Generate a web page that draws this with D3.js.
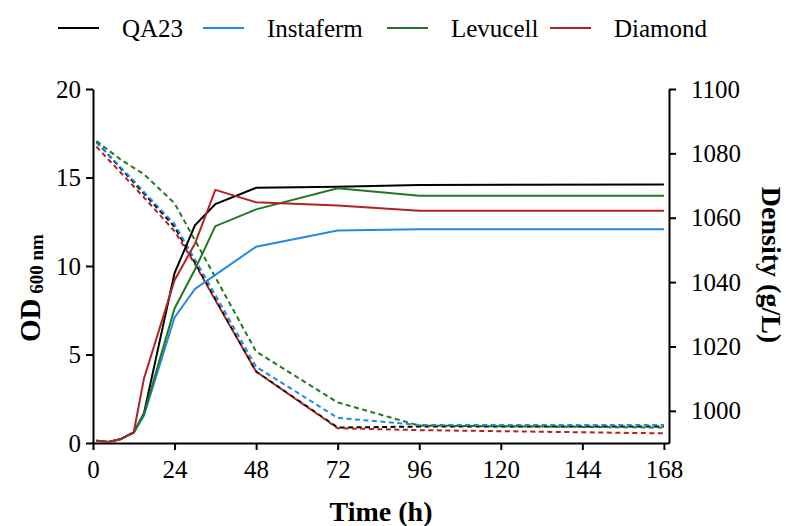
<!DOCTYPE html>
<html>
<head>
<meta charset="utf-8">
<script src="https://cdn.jsdelivr.net/npm/d3@7"></script>
<style>
  body { margin: 0; background: #fff; }
  svg text { font-family: "Liberation Serif", "Times New Roman", serif; fill: #000; }
</style>
</head>
<body>
<div id="chart"></div>
<script>
// sampling times (h)
const times = [1, 4.5, 8, 12, 15, 24, 30, 36, 48, 72, 96, 168];
const strains = ["QA23", "Instaferm", "Levucell", "Diamond"];
const colors = ["#000000", "#2389e6", "#1f7a1f", "#b22222"];

// OD 600 nm (left axis)
const odQA23 = [0.13, 0.06, 0.21, 0.6, 1.68, 9.6, 12.3, 13.5, 14.42, 14.48, 14.58, 14.6];
const odInstaferm = [0.13, 0.06, 0.21, 0.58, 1.55, 7.1, 8.7, 9.5, 11.09, 12.0, 12.07, 12.07];
const odLevucell = [0.13, 0.06, 0.21, 0.6, 1.65, 7.6, 9.8, 12.25, 13.2, 14.39, 13.97, 13.97];
const odDiamond = [0.13, 0.06, 0.21, 0.62, 3.65, 9.2, 11.26, 14.3, 13.6, 13.42, 13.12, 13.12];

// density g/L (right axis, dashed)
const denQA23 = [1083.6, 1079.6, 1075.5, 1071, 1067.5, 1057.2, 1046, 1034.6, 1012.2, 994.8, 995.1, 995.1];
const denInstaferm = [1083.4, 1079.7, 1075.8, 1071.5, 1068, 1058, 1047, 1036, 1013.7, 997.8, 995.6, 995.6];
const denLevucell = [1083.8, 1081, 1078.2, 1075.5, 1073.5, 1064.5, 1053, 1041.5, 1018.4, 1002.6, 995.4, 994.8];
const denDiamond = [1082.1, 1078.1, 1074.2, 1069.7, 1066.3, 1055.8, 1045.6, 1034.4, 1012.2, 994.6, 994.0, 993.0];

const odSeries = [odQA23, odInstaferm, odLevucell, odDiamond];
const denSeries = [denQA23, denInstaferm, denLevucell, denDiamond];

const xTicks = [0, 24, 48, 72, 96, 120, 144, 168];
const odTicks = [0, 5, 10, 15, 20];
const denTicks = [1000, 1020, 1040, 1060, 1080, 1100];

const W = 790, H = 526;
const plot = { left: 93, right: 669, top: 89, bottom: 443 };
const serif = '"Liberation Serif", "Times New Roman", serif';

const svg = d3.select("#chart").append("svg")
  .attr("width", W)
  .attr("height", H)
  .attr("font-family", serif);

const x = d3.scaleLinear().domain([0, 169.5]).range([plot.left, plot.right]);
const yOD = d3.scaleLinear().domain([0, 20]).range([plot.bottom, plot.top]);
const yDen = d3.scaleLinear().domain([990, 1100]).range([plot.bottom, plot.top]);

// axes
const xAxis = svg.append("g")
  .attr("transform", "translate(0," + plot.bottom + ")")
  .call(d3.axisBottom(x).tickValues(xTicks).tickSize(7).tickSizeOuter(0).tickPadding(10));
const lAxis = svg.append("g")
  .attr("transform", "translate(" + plot.left + ",0)")
  .call(d3.axisLeft(yOD).tickValues(odTicks).tickSize(7).tickSizeOuter(0).tickPadding(5));
const rAxis = svg.append("g")
  .attr("transform", "translate(" + plot.right + ",0)")
  .call(d3.axisRight(yDen).tickValues(denTicks).tickFormat(d3.format("d"))
    .tickSize(7).tickSizeOuter(0).tickPadding(15));

[xAxis, lAxis, rAxis].forEach(function (g) {
  g.attr("font-family", serif).attr("font-size", 25);
  g.selectAll("path, line").attr("stroke", "#000").attr("stroke-width", 2);
  g.selectAll("text").attr("fill", "#000");
});

// lines
const odLine = d3.line()
  .x(function (d, i) { return x(times[i]); })
  .y(function (d) { return yOD(d); });
const denLine = d3.line()
  .x(function (d, i) { return x(times[i]); })
  .y(function (d) { return yDen(d); });

for (var i = 0; i < strains.length; i++) {
  svg.append("path")
    .datum(denSeries[i])
    .attr("d", denLine)
    .attr("fill", "none")
    .attr("stroke", colors[i])
    .attr("stroke-width", 2)
    .attr("stroke-dasharray", "5,3.5");
}
for (var i = 0; i < strains.length; i++) {
  svg.append("path")
    .datum(odSeries[i])
    .attr("d", odLine)
    .attr("fill", "none")
    .attr("stroke", colors[i])
    .attr("stroke-width", 2);
}

// axis titles
svg.append("text")
  .attr("x", (plot.left + plot.right) / 2)
  .attr("y", 521)
  .attr("text-anchor", "middle")
  .attr("font-size", 28)
  .attr("font-weight", "bold")
  .text("Time (h)");

const odLabel = svg.append("text")
  .attr("transform", "translate(40,288) rotate(-90)")
  .attr("text-anchor", "middle")
  .attr("font-weight", "bold");
odLabel.append("tspan").attr("font-size", 29).text("OD");
odLabel.append("tspan").attr("font-size", 19).attr("dy", 3).text(" 600 nm");

svg.append("text")
  .attr("transform", "translate(762,265) rotate(90)")
  .attr("text-anchor", "middle")
  .attr("font-size", 28)
  .attr("font-weight", "bold")
  .text("Density (g/L)");

// legend
const legendX = [58, 203, 387, 550];
const legend = svg.append("g");
for (var i = 0; i < strains.length; i++) {
  legend.append("line")
    .attr("x1", legendX[i]).attr("x2", legendX[i] + 41)
    .attr("y1", 28).attr("y2", 28)
    .attr("stroke", colors[i])
    .attr("stroke-width", 2);
  legend.append("text")
    .attr("x", legendX[i] + 64)
    .attr("y", 37)
    .attr("font-size", 25)
    .text(strains[i]);
}
</script>
</body>
</html>
